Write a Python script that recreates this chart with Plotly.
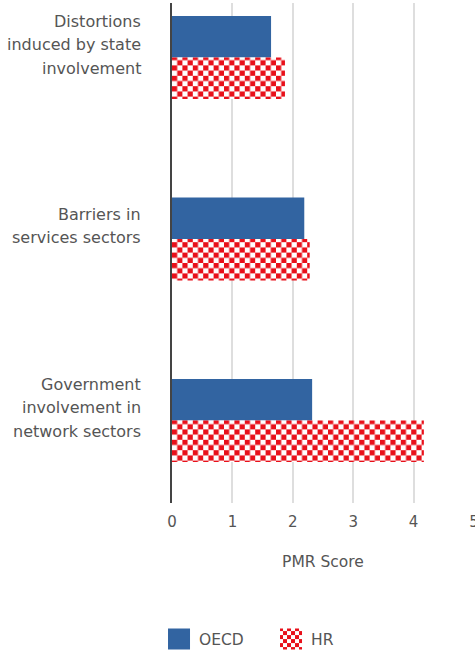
import plotly.graph_objects as go

# PMR sub-indicator scores, OECD average vs Croatia (HR)
categories = [
    "Distortions induced by state involvement",
    "Barriers in services sectors",
    "Government involvement in network sectors",
]
label_lines = [
    ["Distortions", "induced by state", "involvement"],
    ["Barriers in", "services sectors"],
    ["Government", "involvement in", "network sectors"],
]
oecd_scores = [1.64, 2.19, 2.32]
hr_scores = [1.87, 2.28, 4.17]
x_ticks = [0, 1, 2, 3, 4, 5]

BLUE = "#3264a1"
RED = "#e8101a"
TEXT = "#555555"
FONT = "DejaVu Sans"

fig = go.Figure()
fig.add_trace(go.Bar(
    name="OECD", y=categories, x=oecd_scores, orientation="h",
    marker=dict(color=BLUE, line=dict(width=0)),
))
fig.add_trace(go.Bar(
    name="HR", y=categories, x=hr_scores, orientation="h",
    marker=dict(
        color=RED, line=dict(width=0),
        pattern=dict(shape="+", fgcolor=RED, bgcolor="#ffffff",
                     size=10.4, solidity=0.5, fillmode="replace"),
    ),
))

# category labels, one annotation per line so the line spacing can be set
annotations = []
line_gap = 23.5
for cat, lines in zip(categories, label_lines):
    n = len(lines)
    for i, txt in enumerate(lines):
        annotations.append(dict(
            text=txt, x=0, xref="paper", xanchor="right", xshift=-29,
            y=cat, yref="y", yanchor="middle",
            yshift=13 - (i - (n - 1) / 2) * line_gap,
            showarrow=False, font=dict(family=FONT, size=16, color=TEXT),
        ))

fig.update_layout(
    width=475, height=651,
    margin=dict(l=172, r=1, t=3, b=148, autoexpand=False),
    paper_bgcolor="white", plot_bgcolor="white",
    barmode="group", bargap=0.543, bargroupgap=0,
    font=dict(family=FONT, color=TEXT),
    annotations=annotations,
    showlegend=True,
    legend=dict(
        orientation="h", x=-0.043, xanchor="left",
        yref="container", y=11.5 / 651, yanchor="middle",
        font=dict(family=FONT, size=15.5, color=TEXT),
        entrywidth=67, traceorder="normal",
    ),
    xaxis=dict(
        range=[0, 5], tickvals=x_ticks, ticktext=[str(v) for v in x_ticks],
        showgrid=True, gridcolor="#dedede", gridwidth=1.5,
        zeroline=False, showline=False, ticks="",
        ticklabelstandoff=8, ticklabeloverflow="allow",
        tickfont=dict(family=FONT, size=15, color=TEXT),
        title=dict(text="PMR Score", standoff=26,
                   font=dict(family=FONT, size=15.5, color=TEXT)),
        automargin=False, fixedrange=True,
    ),
    yaxis=dict(
        type="category", categoryorder="array", categoryarray=categories,
        range=[2.4545, -0.3003], showticklabels=False, ticks="",
        showgrid=False, zeroline=False,
        showline=True, linecolor="#444444", linewidth=1.5,
        automargin=False, fixedrange=True,
    ),
)

# restyle the HR pattern tiles as a checkerboard using the trace's own colours/size,
# and enlarge the legend swatches
post_js = """
var gd = document.getElementById('{plot_id}');
var NS = 'http://www.w3.org/2000/svg';
gd.querySelectorAll('pattern').forEach(function (p) {
  var mark = p.querySelector('path');
  var base = p.querySelector('rect');
  if (!mark) return;
  var fg = mark.getAttribute('stroke') || mark.style.stroke;
  var bg = base ? (base.getAttribute('fill') || base.style.fill) : '#ffffff';
  var w = parseFloat(p.getAttribute('width'));
  var c = w / 2;
  while (p.firstChild) p.removeChild(p.firstChild);
  [[0, 0, w, bg], [0, 0, c, fg], [c, c, c, fg]].forEach(function (r) {
    var e = document.createElementNS(NS, 'rect');
    e.setAttribute('x', r[0]);
    e.setAttribute('y', r[1]);
    e.setAttribute('width', r[2]);
    e.setAttribute('height', r[2]);
    e.setAttribute('fill', r[3]);
    p.appendChild(e);
  });
});
gd.querySelectorAll('.legend .legendpoints path').forEach(function (s) {
  s.setAttribute('d', 'M11,10.5H-11V-10.5H11Z');
});
"""

fig.write_html("out.html", post_script=post_js, config={"displayModeBar": False})
